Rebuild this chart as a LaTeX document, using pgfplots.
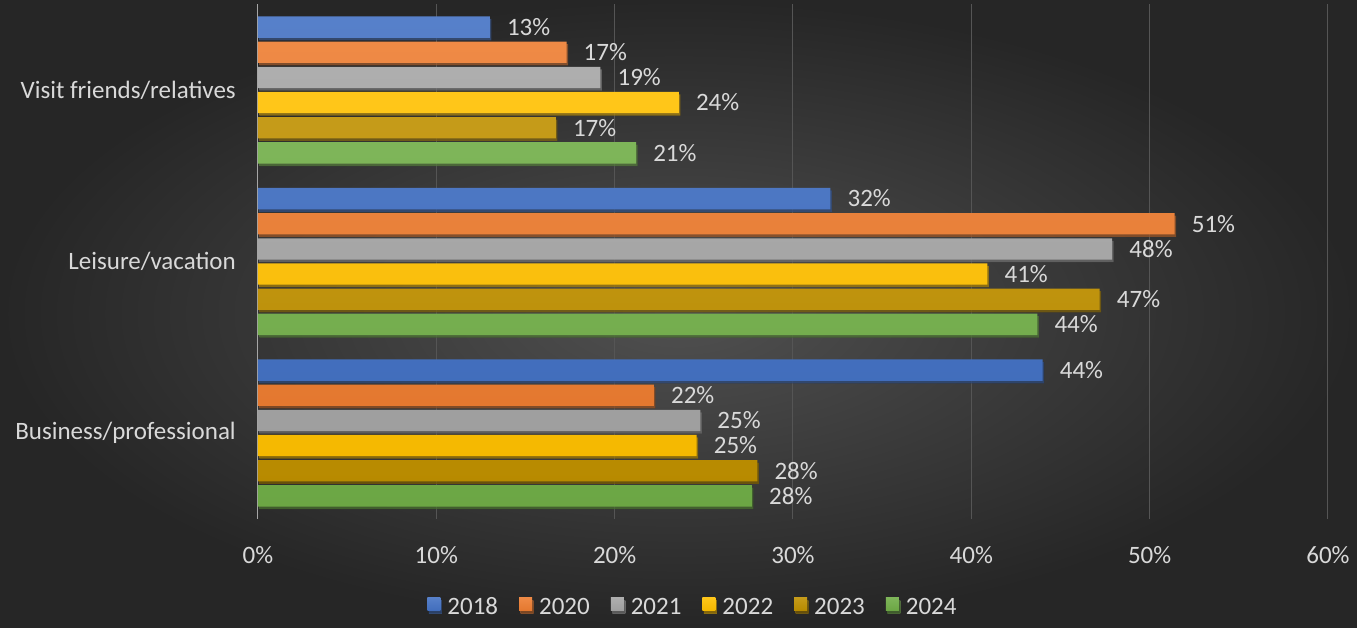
\documentclass[border=0pt]{standalone}
\usepackage{fontspec}
\setmainfont{Carlito}
\usepackage{pgfplots}
\pgfplotsset{compat=1.18}
\usetikzlibrary{shadows}
\definecolor{c2018}{HTML}{4472C4}
\definecolor{c2020}{HTML}{ED7D31}
\definecolor{c2021}{HTML}{A5A5A5}
\definecolor{c2022}{HTML}{FFC000}
\definecolor{c2023}{HTML}{BF9000}
\definecolor{c2024}{HTML}{70AD47}
\definecolor{txt}{HTML}{D9D9D9}
\definecolor{gridc}{HTML}{555555}
\definecolor{zeroc}{HTML}{A6A6A6}
\definecolor{bgin}{HTML}{505050}
\definecolor{bgout}{HTML}{262626}
\pgfplotsset{
  mybar/.style={draw=none, top color=#1!90!white, bottom color=#1!96!black,
    drop shadow={shadow xshift=1.5pt, shadow yshift=-2.5pt, opacity=0.5, fill=black}},
}
\newcommand{\bigf}{\fontsize{25}{30}\selectfont}
\begin{document}
\begin{tikzpicture}
\shade[inner color=bgin, outer color=bgout] (0pt,0pt) rectangle (1357pt,627pt);
\path[use as bounding box] (0pt,0pt) rectangle (1357pt,627pt);
\begin{axis}[
  at={(258pt,108.25pt)}, anchor=south west, scale only axis,
  width=1070pt, height=514.5pt,
  xbar, bar width=0.125,
  xmin=0, xmax=60, ymin=-0.5, ymax=2.5,
  axis line style={draw=none},
  major tick length=0pt,
  xtick={0,10,...,60},
  xticklabel={\pgfmathprintnumber[assume math mode=true]{\tick}\%},
  ytick={0,1,2},
  yticklabels={Business/professional,Leisure/vacation,Visit friends/relatives},
  tick label style={font=\bigf, text=txt, inner sep=0pt},
  xticklabel style={yshift=-27pt},
  yticklabel style={xshift=-22pt},
  xmajorgrids, grid style={gridc, line width=1pt},
  extra x ticks={0}, extra x tick labels={},
  extra x tick style={grid style={zeroc, line width=1pt}},
  point meta=x,
  nodes near coords={\pgfmathprintnumber[fixed,precision=0,assume math mode=true]{\pgfplotspointmeta}\%},
  every node near coord/.append style={font=\bigf, text=txt, anchor=west, inner sep=0pt, xshift=17pt},
  legend columns=6,
  legend image code/.code={\fill[#1] (0pt,-3.5pt) rectangle (13pt,9.5pt);},
  legend style={at={(0.4056,-0.1715)}, anchor=center, draw=none, fill=none,
    text=txt, font=\bigf, inner sep=0pt,
    nodes={inner sep=0pt},
    /tikz/every odd column/.append style={column sep=7pt},
    /tikz/every even column/.append style={column sep=21pt}},
]
\addplot[mybar=c2018, bar shift=0.367] coordinates {(44.0,0) (32.1,1) (13.0,2)};
\addplot[mybar=c2020, bar shift=0.220] coordinates {(22.2,0) (51.4,1) (17.3,2)};
\addplot[mybar=c2021, bar shift=0.073] coordinates {(24.8,0) (47.9,1) (19.2,2)};
\addplot[mybar=c2022, bar shift=-0.073] coordinates {(24.6,0) (40.9,1) (23.6,2)};
\addplot[mybar=c2023, bar shift=-0.220] coordinates {(28.0,0) (47.2,1) (16.7,2)};
\addplot[mybar=c2024, bar shift=-0.367] coordinates {(27.7,0) (43.7,1) (21.2,2)};
\legend{2018,2020,2021,2022,2023,2024}
\end{axis}
\end{tikzpicture}
\end{document}
